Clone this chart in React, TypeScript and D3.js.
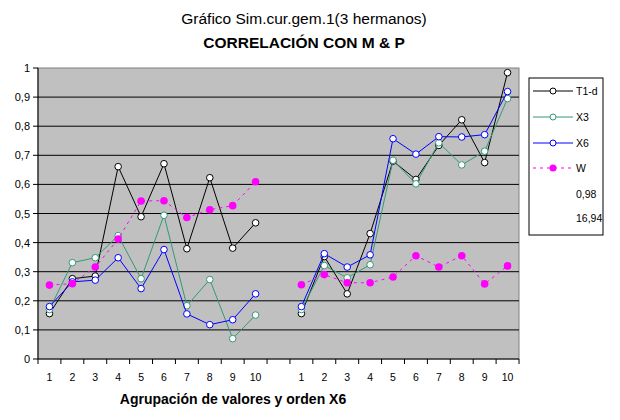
import React from "react";
import * as d3 from "d3";

const categories: string[] = ["1","2","3","4","5","6","7","8","9","10","","1","2","3","4","5","6","7","8","9","10"];
const t1d: (number | null)[] = [0.156,0.276,0.285,0.661,0.489,0.671,0.379,0.623,0.381,0.468,null,0.156,0.352,0.224,0.431,0.68,0.617,0.734,0.822,0.675,0.984];
const x3: (number | null)[] = [0.17,0.331,0.348,0.424,0.276,0.494,0.183,0.273,0.070,0.151,null,0.17,0.321,0.279,0.324,0.683,0.602,0.743,0.667,0.714,0.895];
const x6: (number | null)[] = [0.18,0.265,0.271,0.348,0.242,0.376,0.155,0.118,0.135,0.224,null,0.18,0.362,0.316,0.358,0.757,0.704,0.764,0.763,0.771,0.919];
const w: (number | null)[] = [0.254,0.259,0.316,0.412,0.543,0.544,0.486,0.513,0.527,0.609,null,0.255,0.290,0.262,0.262,0.282,0.355,0.316,0.355,0.258,0.320];
const yTicks: number[] = [0,0.1,0.2,0.3,0.4,0.5,0.6,0.7,0.8,0.9,1];
const yTickLabels: string[] = ["0","0,1","0,2","0,3","0,4","0,5","0,6","0,7","0,8","0,9","1"];
const legendExtra: string[] = ["0,98","16,94"];

const series = [
  { name: "T1-d", data: t1d, color: "#000000", dash: null as string | null, filled: false },
  { name: "X3", data: x3, color: "#339977", dash: null, filled: false },
  { name: "X6", data: x6, color: "#0000ff", dash: null, filled: false },
  { name: "W", data: w, color: "#ff00ff", dash: "3,4", filled: true },
];

export default function App() {
  const left = 38, right = 519, top = 68, bottom = 359;
  const x = d3.scaleBand<number>().domain(d3.range(categories.length)).range([left, right]).padding(0);
  const y = d3.scaleLinear().domain([0, 1]).range([bottom, top]);
  const cx = (i: number) => (x(i) as number) + x.bandwidth() / 2;
  const font = "Arial, 'Liberation Sans', sans-serif";
  const line = d3.line<number | null>()
    .defined((d) => d !== null)
    .x((_, i) => cx(i))
    .y((d) => y(d as number));
  const legendY = [91, 117, 143, 168];

  return (
    <svg width={620} height={420} style={{ position: "absolute", left: 0, top: 0, background: "#fff" }} fontFamily={font}>
      <rect x={0} y={0} width={620} height={420} fill="#fff" />
      <text x={304} y={24} textAnchor="middle" fontSize={15.5}>Gráfico Sim.cur.gem.1(3 hermanos)</text>
      <text x={304} y={48} textAnchor="middle" fontSize={15.5} fontWeight="bold">CORRELACIÓN CON M &amp; P</text>
      <rect x={left} y={top} width={right - left} height={bottom - top} fill="#c0c0c0" stroke="#808080" strokeWidth={1} />
      {yTicks.map((t, i) => (
        <g key={i}>
          {t > 0 && t < 1 && <line x1={left} x2={right} y1={y(t)} y2={y(t)} stroke="#000" strokeWidth={1} />}
          <line x1={left - 5} x2={left} y1={y(t)} y2={y(t)} stroke="#000" />
          <text x={30} y={y(t) + 4} textAnchor="end" fontSize={11}>{yTickLabels[i]}</text>
        </g>
      ))}
      <line x1={left} x2={left} y1={top} y2={bottom} stroke="#000" />
      <line x1={left} x2={right} y1={bottom} y2={bottom} stroke="#000" />
      {d3.range(categories.length + 1).map((i) => {
        const xx = i < categories.length ? (x(i) as number) : right;
        return <line key={i} x1={xx} x2={xx} y1={bottom} y2={bottom + 5} stroke="#000" />;
      })}
      {categories.map((c, i) => (
        <text key={i} x={cx(i)} y={381} textAnchor="middle" fontSize={10.5}>{c}</text>
      ))}
      <text x={233} y={404} textAnchor="middle" fontSize={14} fontWeight="bold">Agrupación de valores y orden X6</text>
      {series.map((s) => (
        <g key={s.name}>
          <path d={line(s.data) || ""} fill="none" stroke={s.color} strokeWidth={1} strokeDasharray={s.dash || undefined} />
          {s.data.map((v, i) => v === null ? null : (
            s.filled
              ? <circle key={i} cx={cx(i)} cy={y(v)} r={3.8} fill={s.color} />
              : <circle key={i} cx={cx(i)} cy={y(v)} r={3.3} fill="#fff" stroke={s.color} strokeWidth={1} />
          ))}
        </g>
      ))}
      <rect x={529} y={78} width={74} height={157} fill="#fff" stroke="#000" strokeWidth={1} />
      {series.map((s, i) => (
        <g key={s.name}>
          <line x1={533} x2={573} y1={legendY[i]} y2={legendY[i]} stroke={s.color} strokeDasharray={s.dash || undefined} />
          {s.filled
            ? <circle cx={553} cy={legendY[i]} r={3.5} fill={s.color} />
            : <circle cx={553} cy={legendY[i]} r={3} fill="#fff" stroke={s.color} />}
          <text x={576} y={legendY[i] + 4} fontSize={10.5}>{s.name}</text>
        </g>
      ))}
      {legendExtra.map((t, i) => (
        <text key={t} x={576} y={198 + i * 24} fontSize={10.5}>{t}</text>
      ))}
    </svg>
  );
}
